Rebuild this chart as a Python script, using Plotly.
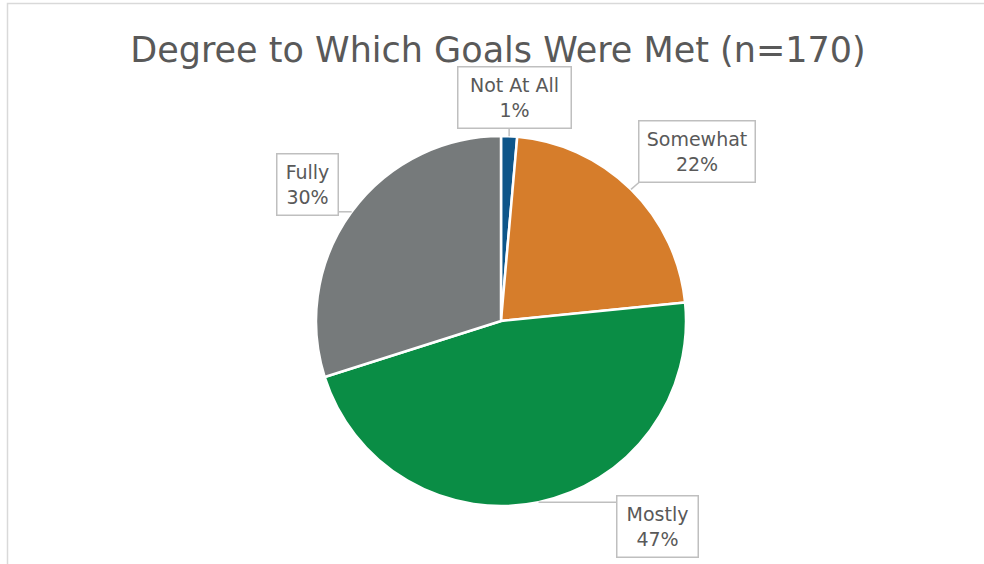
import math
import plotly.graph_objects as go

# ---- data ----
categories = ["Not At All", "Somewhat", "Mostly", "Fully"]
values = [1.4, 22.0, 46.7, 29.9]
colors = ["#0E568A", "#D67D2B", "#0A8D45", "#767A7B"]
title_text = "Degree to Which Goals Were Met (n=170)"

W, H = 984, 564
# pie geometry (pixels)
CX, CY, R = 501, 321, 185
# label box centers and sizes (pixels)
box_pos = {
    "Not At All": (514, 97, 112, 60),
    "Somewhat": (697, 152, 115, 60),
    "Mostly": (657, 526, 80, 60),
    "Fully": (307, 184, 60, 60),
}

def px(x):
    return x / W

def py(y):
    return 1 - y / H

fig = go.Figure(go.Pie(
    labels=categories,
    values=values,
    sort=False,
    direction="clockwise",
    rotation=0,
    marker=dict(colors=colors, line=dict(color="white", width=2.5)),
    textinfo="none",
    hoverinfo="label+percent",
    showlegend=False,
    domain=dict(x=[px(CX - R), px(CX + R)], y=[py(CY + R), py(CY - R)]),
))

total = sum(values)
shapes = []
annotations = []
cum = 0.0
for cat, v in zip(categories, values):
    mid = (cum + v / 2) / total * 2 * math.pi
    cum += v
    ex = CX + R * math.sin(mid)
    ey = CY - R * math.cos(mid)
    bx, by, bw, bh = box_pos[cat]
    tx = min(max(ex, bx - bw / 2), bx + bw / 2)
    ty = min(max(ey, by - bh / 2), by + bh / 2)
    shapes.append(dict(type="line", xref="paper", yref="paper",
                       x0=px(ex), y0=py(ey), x1=px(tx), y1=py(ty),
                       line=dict(color="#BFBFBF", width=1.5)))
    annotations.append(dict(
        x=px(bx), y=py(by), xref="paper", yref="paper",
        xanchor="center", yanchor="middle", showarrow=False,
        text=f"{cat}<br>{round(v)}%",
        font=dict(family="DejaVu Sans", size=19, color="#595959"),
        bgcolor="white", bordercolor="#BFBFBF", borderwidth=1.5, borderpad=1,
        width=bw - 2, height=bh - 2, align="center",
    ))

# chart frame
shapes.append(dict(type="rect", xref="paper", yref="paper",
                   x0=px(7.5), y0=-0.05, x1=1.05, y1=py(3.5),
                   line=dict(color="#D9D9D9", width=1.5), fillcolor="rgba(0,0,0,0)"))

fig.update_layout(
    width=W, height=H,
    margin=dict(l=0, r=0, t=0, b=0),
    paper_bgcolor="white", plot_bgcolor="white",
    title=dict(text=title_text, x=px(498), y=py(50), xanchor="center", yanchor="middle",
               font=dict(family="DejaVu Sans", size=35, color="#595959")),
    shapes=shapes,
    annotations=annotations,
)

fig.write_html("out.html",
               config={"displayModeBar": False},
               post_script="document.body.style.margin='0';document.body.style.overflow='hidden';")
